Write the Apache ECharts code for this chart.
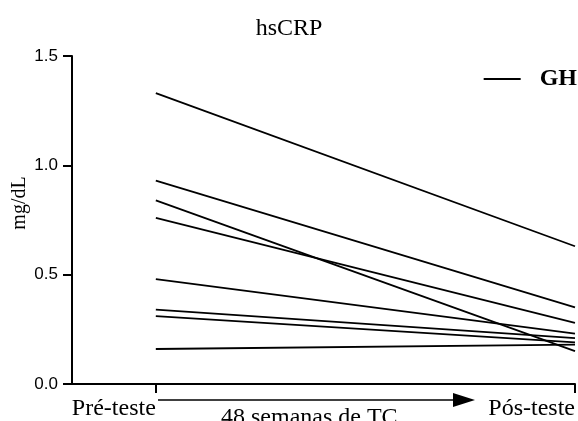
<!DOCTYPE html>
<html>
<head>
<meta charset="utf-8">
<script src="https://cdn.jsdelivr.net/npm/echarts@6/dist/echarts.min.js"></script>
<style>
  html, body { margin: 0; padding: 0; background: #fff; }
  #chart { width: 578px; height: 421px; }
</style>
</head>
<body>
<div id="chart"></div>
<script>
  // valores (mg/dL)
  const timeLabels = ['Pré-teste', 'Pós-teste'];
  const preTeste = [1.33, 0.93, 0.84, 0.76, 0.48, 0.34, 0.31, 0.16];
  const posTeste = [0.63, 0.35, 0.15, 0.28, 0.23, 0.21, 0.19, 0.18];
  const yTicks = [0, 0.5, 1.0, 1.5];

  const serif = '"Liberation Serif", "DejaVu Serif", serif';
  const sans = '"Liberation Sans", Arial, sans-serif';

  const chart = echarts.init(document.getElementById('chart'));

  // uma série por sujeito: pré (x=0) -> pós (x=1)
  const series = preTeste.map((v, i) => ({
    name: 'GH',
    type: 'line',
    data: [[0, v], [1, posTeste[i]]],
    symbol: 'none',
    silent: true,
    lineStyle: { color: '#000', width: 1.8 },
    itemStyle: { color: '#000' }
  }));

  chart.setOption({
    backgroundColor: '#fff',
    animation: false,
    title: {
      text: 'hsCRP',
      left: 'center',
      top: 12,
      textStyle: { fontFamily: serif, fontSize: 24, fontWeight: 'normal', color: '#000' }
    },
    legend: {
      data: ['GH'],
      right: -4,
      top: 62,
      icon: 'rect',
      itemWidth: 37,
      itemHeight: 2,
      textStyle: { fontFamily: serif, fontSize: 24, fontWeight: 'bold', color: '#000', padding: [0, 0, 0, 14] }
    },
    grid: { left: 72, right: 1, top: 56, bottom: 37 },
    xAxis: {
      type: 'value',
      min: -0.2,
      max: 1,
      splitLine: { show: false },
      axisLine: { lineStyle: { color: '#000', width: 2 } },
      axisTick: { customValues: [0, 1], length: 9, lineStyle: { color: '#000', width: 2 } },
      axisLabel: {
        customValues: [0, 1],
        formatter: v => timeLabels[Math.round(v)],
        align: 'right',
        margin: 13,
        fontFamily: serif,
        fontSize: 24,
        color: '#000'
      }
    },
    yAxis: {
      type: 'value',
      min: 0,
      max: 1.5,
      interval: 0.5,
      splitLine: { show: false },
      axisLine: { show: true, onZero: false, lineStyle: { color: '#000', width: 2 } },
      axisTick: { length: 9, lineStyle: { color: '#000', width: 2 } },
      axisLabel: {
        customValues: yTicks,
        formatter: v => v.toFixed(1),
        margin: 14,
        fontFamily: sans,
        fontSize: 17,
        color: '#000'
      }
    },
    graphic: [
      {
        type: 'text',
        x: 20, y: 203,
        rotation: Math.PI / 2,
        style: { text: 'mg/dL', fontFamily: serif, fontSize: 20, fill: '#000', align: 'center', verticalAlign: 'middle' }
      },
      {
        type: 'line',
        shape: { x1: 158, y1: 400, x2: 456, y2: 400 },
        style: { stroke: '#000', lineWidth: 1.7 }
      },
      {
        type: 'polygon',
        shape: { points: [[453, 393], [475, 400], [453, 407]] },
        style: { fill: '#000' }
      },
      {
        type: 'text',
        x: 221, y: 418,
        style: { text: '48 semanas de TC', fontFamily: serif, fontSize: 24, fill: '#000', align: 'left', verticalAlign: 'middle' }
      }
    ],
    series: series
  });
</script>
</body>
</html>
